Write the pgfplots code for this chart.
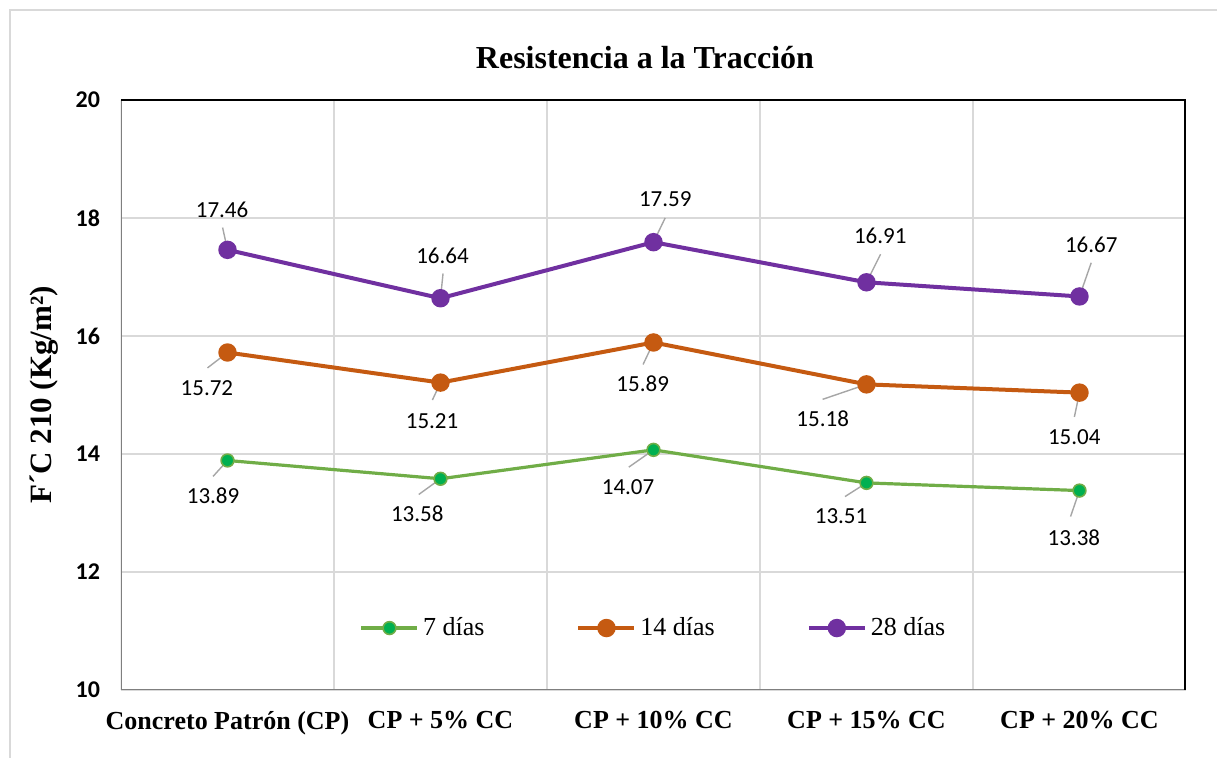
\documentclass[border=0pt]{standalone}
\usepackage{fontspec}
\setmainfont{Liberation Serif}
\newfontfamily\calibri{Carlito}
\usepackage{pgfplots}
\usepackage{pgfplotstable}
\pgfplotsset{compat=1.18}

\definecolor{verde}{HTML}{70AD47}
\definecolor{verdemk}{HTML}{00B050}
\definecolor{naranja}{HTML}{C55A11}
\definecolor{morado}{HTML}{7030A0}
\definecolor{rejilla}{HTML}{D9D9D9}
\definecolor{guia}{HTML}{A6A6A6}
\definecolor{eje}{HTML}{7F7F7F}

% x, valor, desplazamiento de la etiqueta (pt), linea guia (u,v en unidades del eje)
\pgfplotstableread{
x y dx dy u v
0 13.89 -7.2 -17.5 -0.068 -0.271
1 13.58 -11.6 -17.4 -0.102 -0.266
2 14.07 -12.7 -18.4 -0.116 -0.293
3 13.51 -12.7 -16.7 -0.101 -0.232
4 13.38 -2.8 -23.5 -0.042 -0.441
}\siete
\pgfplotstableread{
x y dx dy u v
0 15.72 -10.3 -17.9 -0.094 -0.261
1 15.21 -4.2 -19.2 -0.038 -0.295
2 15.89 -5.4 -20.5 -0.049 -0.373
3 15.18 -21.9 -17.4 -0.206 -0.254
4 15.04 -2.6 -22.2 -0.024 -0.412
}\catorce
\pgfplotstableread{
x y dx dy u v
0 17.46 -2.7 20.0 -0.023 0.378
1 16.64 1.0 21.0 0.012 0.419
2 17.59 5.9 21.4 0.055 0.412
3 16.91 6.9 23.2 0.066 0.475
4 16.67 5.9 25.7 0.055 0.571
}\veintiocho

\pgfplotsset{
  serie/.style={
    line width=2pt, mark=*,
    visualization depends on={\thisrow{dx} \as \dx},
    visualization depends on={\thisrow{dy} \as \dy},
    nodes near coords, point meta=explicit symbolic,
    every node near coord/.append style={anchor=center, text=black,
      xshift=\dx pt, yshift=\dy pt, inner sep=0pt,
      font=\calibri\fontsize{11.5}{12}\selectfont},
  },
  guias/.style={forget plot, no marks, draw=guia, line width=0.7pt, -,
    quiver={u=\thisrow{u}, v=\thisrow{v}}},
}

\begin{document}
\begin{tikzpicture}
\useasboundingbox (0,0) rectangle (608.5pt,379pt);
\draw[rejilla, line width=1pt] (5pt,0) -- (5pt,374pt) -- (608.5pt,374pt);
\begin{axis}[
  at={(60.5pt,34pt)}, anchor=south west,
  scale only axis, width=532.5pt, height=295pt,
  xmin=-0.5, xmax=4.5, ymin=10, ymax=20,
  xtick={0,...,4},
  xticklabels={Concreto Patrón (CP), CP + 5\% CC, CP + 10\% CC, CP + 15\% CC, CP + 20\% CC},
  minor xtick={0.5,1.5,2.5,3.5},
  ytick={10,12,...,20},
  xminorgrids, ymajorgrids,
  grid style={rejilla, line width=1pt},
  minor grid style={rejilla, line width=1pt},
  major tick length=0pt, minor tick length=0pt,
  axis line style={draw=none},
  /pgf/number format/assume math mode=true,
  x tick label style={font=\bfseries\fontsize{13}{13}\selectfont, yshift=-7pt},
  y tick label style={font=\calibri\bfseries\fontsize{12}{12}\selectfont, xshift=-7pt},
  title={Resistencia a la Tracción},
  title style={at={(axis description cs:0.492,1.051)}, anchor=center,
    font=\bfseries\fontsize{16}{16}\selectfont},
  ylabel={F´C 210 (Kg/m²)},
  ylabel style={at={(axis description cs:-0.072,0.5)}, anchor=center,
    font=\bfseries\fontsize{15.5}{16}\selectfont},
  legend columns=3,
  legend style={draw=none, fill=none, at={(axis description cs:0.501,0.105)},
    anchor=center, font=\fontsize{13}{13}\selectfont,
    /tikz/every even column/.append style={column sep=44pt}},
  legend image code/.code={\draw[mark repeat=2,mark phase=2,#1]
    plot coordinates {(0pt,0pt)(14pt,0pt)(28pt,0pt)};},
]
\addplot[serie, verde, line width=1.6pt, mark size=3.2pt,
  mark options={fill=verdemk, draw=verde, line width=0.8pt}] table[x=x, y=y, meta=y] {\siete};
\addlegendentry{7 días}
\addplot[serie, naranja, mark size=3.6pt, mark options={fill=naranja}] table[x=x, y=y, meta=y] {\catorce};
\addlegendentry{14 días}
\addplot[serie, morado, mark size=3.6pt, mark options={fill=morado}] table[x=x, y=y, meta=y] {\veintiocho};
\addlegendentry{28 días}

\addplot[guias] table[x=x, y=y] {\siete};
\addplot[guias] table[x=x, y=y] {\catorce};
\addplot[guias] table[x=x, y=y] {\veintiocho};

\draw[eje, line width=1pt] (rel axis cs:0,1) -- (rel axis cs:0,0) -- (rel axis cs:1,0);
\draw[black, line width=1pt] (rel axis cs:0,1) -- (rel axis cs:1,1);
\draw[black, line width=1.5pt] (rel axis cs:1,0) -- (rel axis cs:1,1);
\end{axis}
\end{tikzpicture}
\end{document}
